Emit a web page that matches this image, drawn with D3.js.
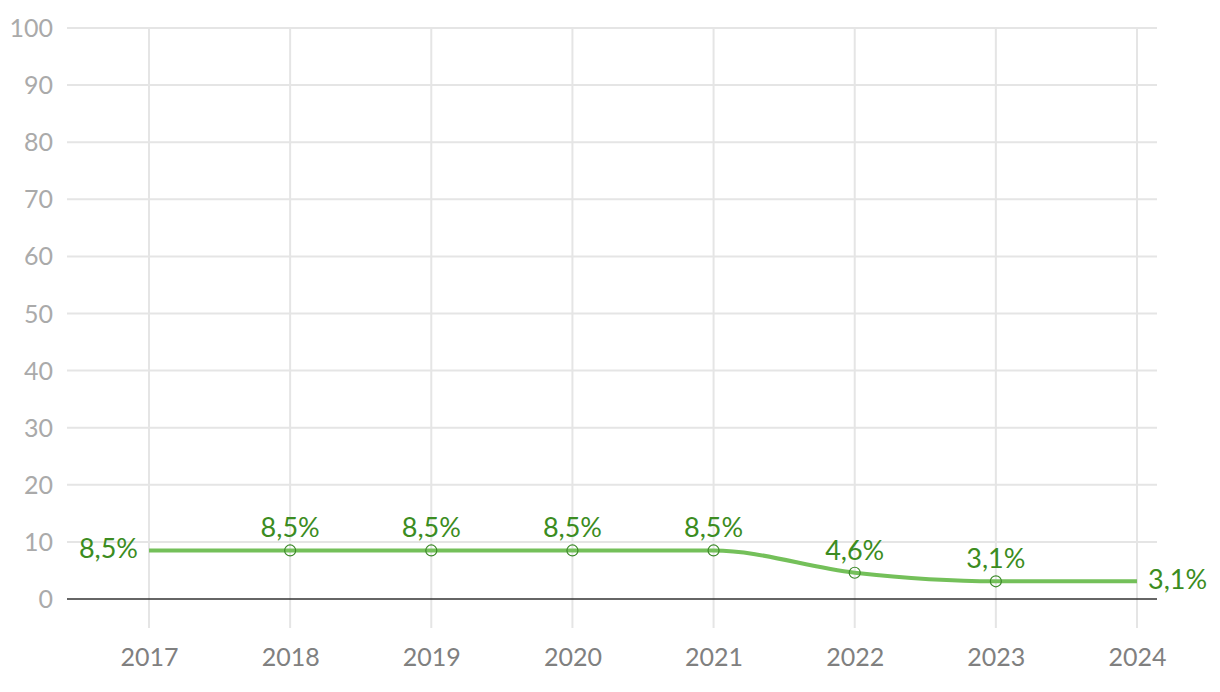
<!DOCTYPE html>
<html><head><meta charset="utf-8">
<script src="https://cdn.jsdelivr.net/npm/d3@7"></script>
<style>body{margin:0;background:#fff}svg{display:block}</style>
</head><body>
<svg id="c" width="1220" height="692"></svg>
<script>
const years = ["2017","2018","2019","2020","2021","2022","2023","2024"];
const values = [8.5, 8.5, 8.5, 8.5, 8.5, 4.6, 3.1, 3.1];
const labels = ["8,5%","8,5%","8,5%","8,5%","8,5%","4,6%","3,1%","3,1%"];
const yTicks = [0,10,20,30,40,50,60,70,80,90,100];

const svg = d3.select("#c");
const font = "'Source Sans Pro', Lato, 'Open Sans', sans-serif";
const gridLeft = 67, gridRight = 1157;
const x = d3.scalePoint().domain(years).range([149, 1137]);
const y = d3.scaleLinear().domain([0, 100]).range([599, 28]);

// y axis labels
const yAxis = d3.axisLeft(y).tickValues(yTicks).tickSize(0).tickPadding(14);
const gy = svg.append("g").attr("transform", `translate(${gridLeft},0)`).call(yAxis);
gy.select(".domain").remove();
gy.selectAll("text").attr("font-family", font).attr("font-size", 25).attr("fill", "#aaaaaa").attr("dy", "0.34em");

// horizontal grid
svg.append("g").selectAll("line").data(yTicks.filter(d => d > 0)).join("line")
  .attr("x1", gridLeft).attr("x2", gridRight)
  .attr("y1", d => y(d)).attr("y2", d => y(d))
  .attr("stroke", "#e5e5e5").attr("stroke-width", 2);

// vertical grid
svg.append("g").selectAll("line").data(years).join("line")
  .attr("x1", d => x(d)).attr("x2", d => x(d))
  .attr("y1", y(100)).attr("y2", 628)
  .attr("stroke", "#e5e5e5").attr("stroke-width", 2);

// x axis labels
const xAxis = d3.axisBottom(x).tickSize(0).tickPadding(0);
const gx = svg.append("g").attr("transform", "translate(0,648)").call(xAxis);
gx.select(".domain").remove();
gx.selectAll("text").attr("font-family", font).attr("font-size", 25).attr("fill", "#808080").attr("dy", "0.72em");

// zero line
svg.append("line").attr("x1", gridLeft).attr("x2", gridRight)
  .attr("y1", y(0)).attr("y2", y(0)).attr("stroke", "#333").attr("stroke-width", 1.6);

const data = years.map((d, i) => ({year: d, v: values[i], label: labels[i], i}));

// line
svg.append("path").datum(data)
  .attr("d", d3.line().x(d => x(d.year)).y(d => y(d.v)).curve(d3.curveMonotoneX))
  .attr("fill", "none").attr("stroke", "#74c05a").attr("stroke-width", 4);

// points (inner)
svg.append("g").selectAll("circle").data(data.filter(d => d.i > 0 && d.i < data.length - 1)).join("circle")
  .attr("cx", d => x(d.year)).attr("cy", d => y(d.v)).attr("r", 5.5)
  .attr("fill", "none").attr("stroke", "#3d8a2a").attr("stroke-width", 1.2);

// labels
svg.append("g").selectAll("text").data(data).join("text")
  .attr("font-family", font).attr("font-size", 27).attr("fill", "#3b8c21")
  .attr("x", d => d.i === 0 ? x(d.year) - 11 : d.i === data.length - 1 ? x(d.year) + 11 : x(d.year))
  .attr("y", d => (d.i === 0 || d.i === data.length - 1) ? y(d.v) + 8 : y(d.v) - 13)
  .attr("text-anchor", d => d.i === 0 ? "end" : d.i === data.length - 1 ? "start" : "middle")
  .text(d => d.label);
</script>
</body></html>
